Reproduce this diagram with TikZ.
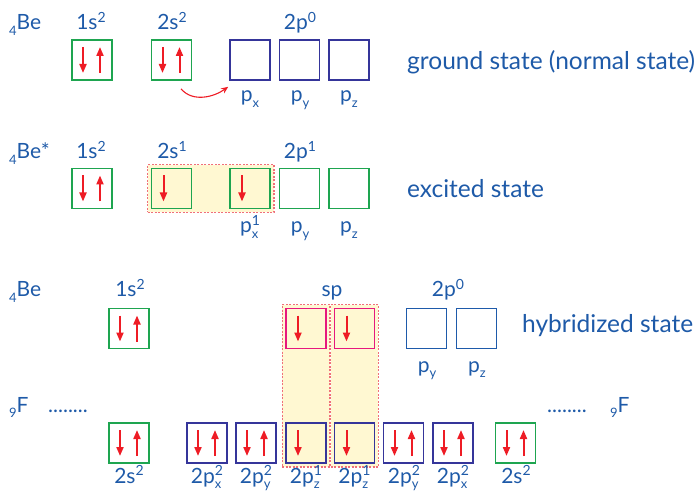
\documentclass[tikz,border=0pt]{standalone}
\usepackage{fontspec}
\setmainfont{Lato}
\usetikzlibrary{arrows.meta,fit,backgrounds}
\definecolor{txtblue}{HTML}{1E5AA8}
\definecolor{bgreen}{HTML}{1EA550}
\definecolor{bnavy}{HTML}{35359A}
\definecolor{bblue}{HTML}{1E5AAA}
\definecolor{bpink}{HTML}{E6187E}
\definecolor{sred}{HTML}{EE1C25}
\definecolor{hfill}{HTML}{FFF8D2}
\definecolor{hdash}{HTML}{F0707A}
\newcommand\lo[1]{\raisebox{-0.27em}{\fontsize{13}{13}\selectfont #1}}
\newcommand\hi[1]{\raisebox{0.36em}{\fontsize{14}{14}\selectfont #1}}
\tikzset{
  orb/.style={draw, line width=1.7pt, minimum size=40pt, inner sep=0pt},
  gbox/.style={orb, draw=bgreen},
  nbox/.style={orb, draw=bnavy},
  bbox/.style={orb, draw=bblue},
  pbox/.style={orb, draw=bpink},
  lab/.style={text=txtblue, font=\fontsize{21}{24}\selectfont, anchor=base, inner sep=0pt},
  llab/.style={lab, anchor=base west},
  state/.style={text=txtblue, font=\fontsize{24.5}{28}\selectfont, anchor=base west, inner sep=0pt},
  spin/.style={draw=sred, line width=2pt, -{Triangle[length=9pt,width=7pt]}},
  hl/.style={draw=hdash, fill=hfill, line width=1.3pt, dash pattern=on 2pt off 1.5pt, inner sep=3pt},
}
\newcommand\updown[1]{%
  \draw[spin] ([xshift=-9pt,yshift=13pt]#1.center) -- ([xshift=-9pt,yshift=-13pt]#1.center);
  \draw[spin] ([xshift=8pt,yshift=-13pt]#1.center) -- ([xshift=8pt,yshift=13pt]#1.center);}
\newcommand\down[1]{%
  \draw[spin] ([xshift=-8pt,yshift=13pt]#1.center) -- ([xshift=-8pt,yshift=-13pt]#1.center);}
\begin{document}
\begin{tikzpicture}[x=1pt,y=-1pt]
\useasboundingbox (0,0) rectangle (697,492);
% ---------- Row 1: ground state
\node[llab] (be1) at (9,30) {\lo{4}Be};
\node[lab] (t1a) at (91,30) {1s\hi{2}};
\node[lab] (t1b) at (172,30) {2s\hi{2}};
\node[lab] (t1c) at (300,30) {2p\hi{0}};
\node[gbox] (g1) at (92,60) {};
\node[gbox] (g2) at (171.5,60) {};
\node[nbox] (gx) at (250,60) {};
\node[nbox] (gy) at (299.5,60) {};
\node[nbox] (gz) at (349,60) {};
\updown{g1}
\updown{g2}
\node[lab] (lgx) at (250,102) {p\lo{x}};
\node[lab] (lgy) at (300,102) {p\lo{y}};
\node[lab] (lgz) at (349,102) {p\lo{z}};
\node[state] (st1) at (407,70) {ground state (normal state)};
\draw[draw=sred, line width=1.1pt, -{Stealth[length=7pt,width=6pt]}]
  ([xshift=9.5pt,yshift=-8pt]g2.south) .. controls +(12,14) and +(-14,10) .. ([xshift=-1pt,yshift=-6pt]gx.south west);
% ---------- Row 2: excited state
\node[llab] (be2) at (9,159) {\lo{4}Be*};
\node[lab] (t2a) at (91,159) {1s\hi{2}};
\node[lab] (t2b) at (172,159) {2s\hi{1}};
\node[lab] (t2c) at (300,159) {2p\hi{1}};
\node[gbox] (e1) at (92,188.5) {};
\node[gbox] (e2) at (171.5,188.5) {};
\node[gbox] (ex) at (250,188.5) {};
\node[gbox] (ey) at (299.5,188.5) {};
\node[gbox] (ez) at (349,188.5) {};
\begin{scope}[on background layer]
\node[hl, fit=(e2)(ex)] (h2) {};
\end{scope}
\updown{e1}
\down{e2}
\down{ex}
\node[lab] (lex) at (250,233) {p\rlap{\lo{x}}\hi{1}};
\node[lab] (ley) at (300,233) {p\lo{y}};
\node[lab] (lez) at (349,233) {p\lo{z}};
\node[state] (st2) at (407,198) {excited state};
% ---------- Row 3: hybridized state
\node[llab] (be3) at (9,297) {\lo{4}Be};
\node[lab] (t3a) at (130,297) {1s\hi{2}};
\node[lab] (t3b) at (332,297) {sp};
\node[lab] (t3c) at (448,297) {2p\hi{0}};
\node[gbox] (h1) at (129,328.5) {};
\node[pbox] (sp1) at (306,328.5) {};
\node[pbox] (sp2) at (354.5,328.5) {};
\node[bbox] (hy) at (426.5,328.5) {};
\node[bbox] (hz) at (476.5,328.5) {};
\updown{h1}
\down{sp1}
\down{sp2}
\node[lab] (lhy) at (427,372) {p\lo{y}};
\node[lab] (lhz) at (477,372) {p\lo{z}};
\node[state] (st3) at (522,332) {hybridized state};
% ---------- Row 4: fluorine
\node[llab] (f1) at (9,412) {\lo{9}F};
\node[llab] (d1) at (48,412) {........};
\node[llab] (d2) at (547,412) {........};
\node[llab] (f2) at (610,412) {\lo{9}F};
\node[gbox] (fs1) at (129,443) {};
\node[nbox] (fx1) at (207,443) {};
\node[nbox] (fy1) at (256,443) {};
\node[nbox] (fz1) at (306,443) {};
\node[nbox] (fz2) at (354.5,443) {};
\node[nbox] (fy2) at (403.5,443) {};
\node[nbox] (fx2) at (453,443) {};
\node[gbox] (fs2) at (515.5,443) {};
\begin{scope}[on background layer]
\node[hl, fit=(sp1)(fz1)] (hA) {};
\node[hl, fit=(sp2)(fz2)] (hB) {};
\end{scope}
\updown{fs1}
\updown{fx1}
\updown{fy1}
\down{fz1}
\down{fz2}
\updown{fy2}
\updown{fx2}
\updown{fs2}
\node[lab] (l1) at (129,483) {2s\hi{2}};
\node[lab] (l2) at (207,483) {2p\rlap{\lo{x}}\hi{2}};
\node[lab] (l3) at (256,483) {2p\rlap{\lo{y}}\hi{2}};
\node[lab] (l4) at (306,483) {2p\rlap{\lo{z}}\hi{1}};
\node[lab] (l5) at (354.5,483) {2p\rlap{\lo{z}}\hi{1}};
\node[lab] (l6) at (404,483) {2p\rlap{\lo{y}}\hi{2}};
\node[lab] (l7) at (453,483) {2p\rlap{\lo{x}}\hi{2}};
\node[lab] (l8) at (516,483) {2s\hi{2}};
\end{tikzpicture}
\end{document}
